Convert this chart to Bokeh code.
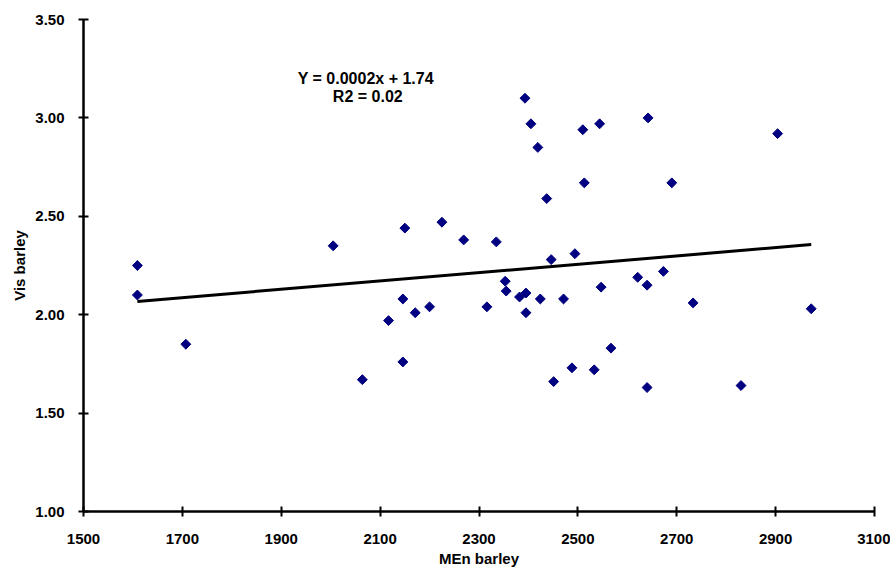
import numpy as np
from bokeh.plotting import figure
from bokeh.models import FixedTicker, NumeralTickFormatter, Label, ColumnDataSource
from bokeh.embed import file_html
from bokeh.resources import INLINE

men_barley = [1609, 1609, 1707, 2005, 2064, 2117, 2146, 2146, 2150, 2171,
              2200, 2225, 2269, 2316, 2335, 2353, 2355, 2382, 2395, 2395,
              2393, 2405, 2419, 2424, 2437, 2446, 2451, 2471, 2488, 2494,
              2510, 2513, 2533, 2544, 2547, 2567, 2621, 2640, 2642, 2640,
              2673, 2690, 2733, 2830, 2904, 2972]
vis_barley = [2.25, 2.10, 1.85, 2.35, 1.67, 1.97, 2.08, 1.76, 2.44, 2.01,
              2.04, 2.47, 2.38, 2.04, 2.37, 2.17, 2.12, 2.09, 2.11, 2.01,
              3.10, 2.97, 2.85, 2.08, 2.59, 2.28, 1.66, 2.08, 1.73, 2.31,
              2.94, 2.67, 1.72, 2.97, 2.14, 1.83, 2.19, 2.15, 3.00, 1.63,
              2.22, 2.67, 2.06, 1.64, 2.92, 2.03]
x_ticks = [1500, 1700, 1900, 2100, 2300, 2500, 2700, 2900, 3100]
y_ticks = [1.0, 1.5, 2.0, 2.5, 3.0, 3.5]
equation_text = "Y = 0.0002x + 1.74"
r2_text = "R2 = 0.02"

FONT = "Liberation Sans"

p = figure(width=890, height=569, output_backend="svg", toolbar_location=None,
           x_range=(1500, 3100), y_range=(1.0, 3.5),
           min_border_left=83, min_border_right=16, min_border_top=19, min_border_bottom=57)
p.outline_line_color = None
p.xgrid.visible = False
p.ygrid.visible = False

for ax in (p.xaxis[0], p.yaxis[0]):
    ax.axis_line_width = 2.5
    ax.axis_line_color = "black"
    ax.major_tick_line_width = 2
    ax.major_tick_in = 5
    ax.major_tick_out = 5
    ax.minor_tick_line_color = None
    ax.major_label_text_font = FONT
    ax.major_label_text_font_style = "bold"
    ax.major_label_text_font_size = "15px"
    ax.major_label_text_color = "black"
    ax.axis_label_text_font = FONT
    ax.axis_label_text_font_style = "bold"
    ax.axis_label_text_font_size = "15px"
    ax.axis_label_text_color = "black"

p.xaxis.ticker = FixedTicker(ticks=x_ticks)
p.yaxis.ticker = FixedTicker(ticks=y_ticks)
p.yaxis.formatter = NumeralTickFormatter(format="0.00")
p.xaxis.axis_label = "MEn barley"
p.yaxis.axis_label = "Vis barley"
p.xaxis.major_label_standoff = 17
p.yaxis.major_label_standoff = 14
p.xaxis.axis_label_standoff = 3
p.yaxis.axis_label_standoff = 4

# linear trend
xs = np.array(men_barley, dtype=float)
ys = np.array(vis_barley, dtype=float)
slope, intercept = np.polyfit(xs, ys, 1)
tx = np.array([xs.min(), xs.max()])
p.line(tx, slope * tx + intercept, line_color="black", line_width=3)

src = ColumnDataSource(dict(x=men_barley, y=vis_barley))
p.scatter("x", "y", source=src, marker="square", angle=np.pi / 4, size=7,
          fill_color="#000080", line_color="#000080")

p.add_layout(Label(x=2071, y=3.20, text=equation_text, text_align="center",
                   text_baseline="middle", text_font=FONT, text_font_style="bold",
                   text_font_size="16px", text_color="black"))
p.add_layout(Label(x=2075, y=3.11, text=r2_text, text_align="center",
                   text_baseline="middle", text_font=FONT, text_font_style="bold",
                   text_font_size="16px", text_color="black"))

open("out.html", "w").write(file_html(p, INLINE))
